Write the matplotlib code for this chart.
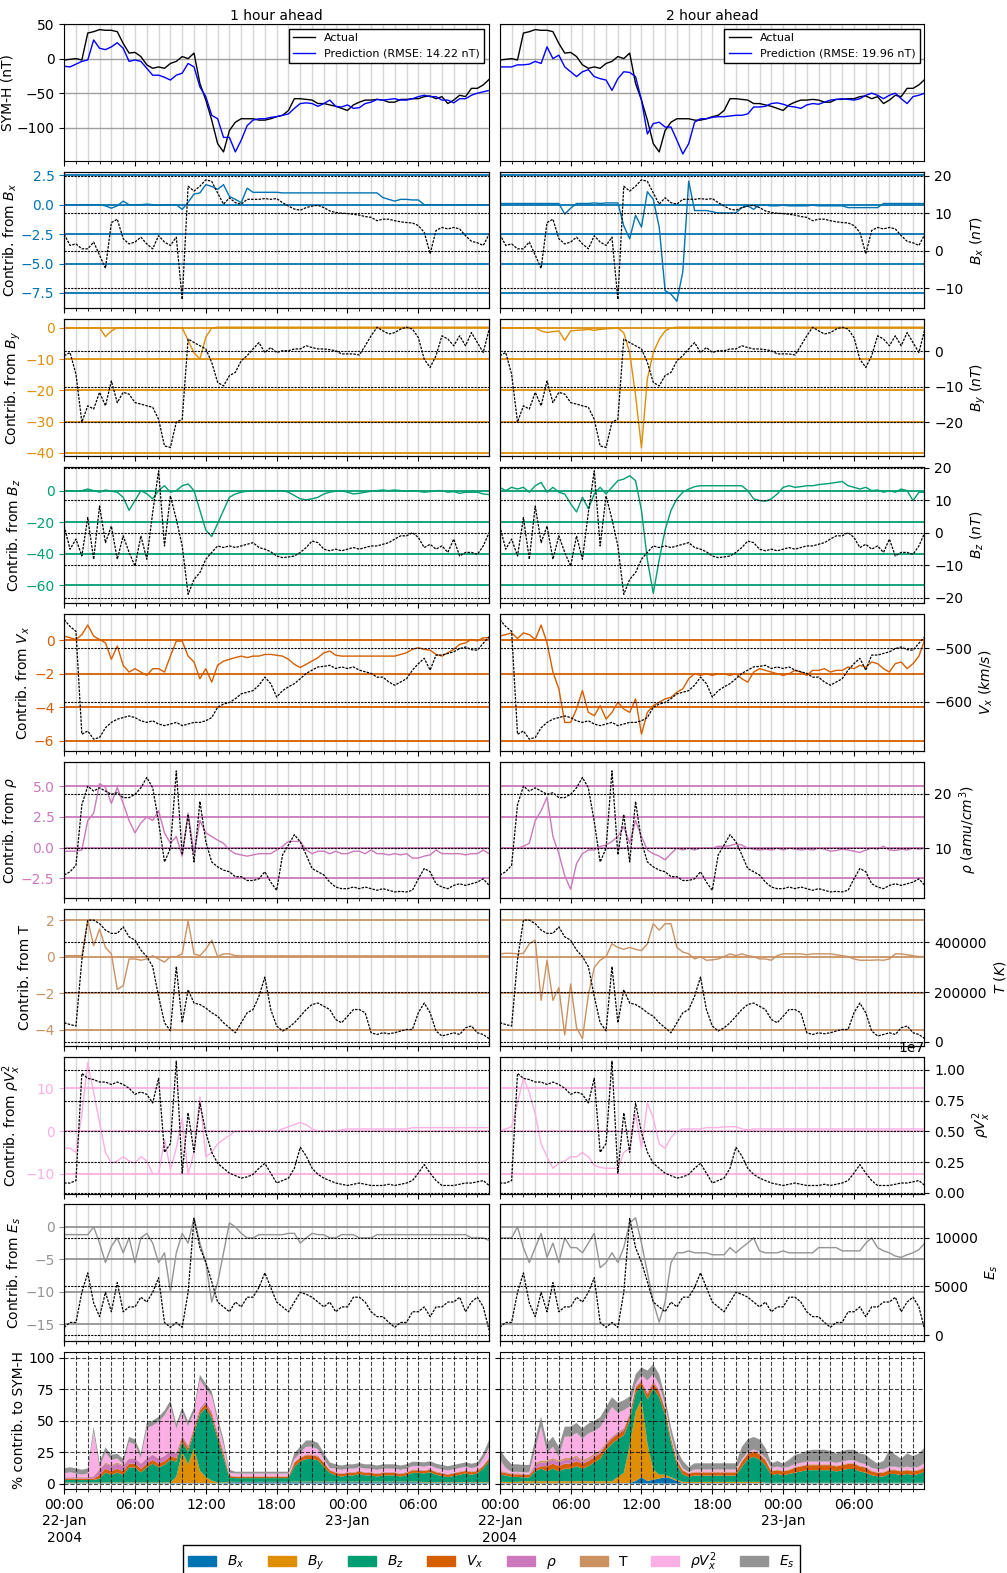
import numpy as np
import pandas as pd
import matplotlib
matplotlib.use("Agg")
import matplotlib.pyplot as plt
import matplotlib.dates as mdates
from matplotlib.ticker import FuncFormatter, FixedLocator
from matplotlib.patches import Patch

# ---------------- time axis (30-min samples) ----------------
times = pd.date_range("2004-01-22 00:00", periods=73, freq="30min")

# ---------------- SYM-H ----------------
symh_actual = [-2,-1,0,-2,37,39,42,41,41,39, 22,8,9,3,-9,-14,-12,-14,-7,-4,
               3,0,8,-36,-60,-89,-123,-135,-104,-92, -87,-87,-87,-89,-89,-87,-84,-82,-75,-58,
               -58,-59,-60,-65,-65,-67,-69,-72,-75,-67, -63,-60,-60,-59,-60,-63,-63,-59,-59,-58,
               -58,-55,-54,-58,-55,-65,-60,-53,-55,-43, -43,-38,-30]
symh_pred_1h = [-11,-12,-8,-4,-2,27,15,13,17,23, 15,-4,-2,-4,-14,-24,-24,-27,-31,-24,
                -21,-7,-12,-41,-55,-82,-87,-114,-114,-135, -118,-97,-89,-87,-87,-85,-84,-82,-80,-72,
                -65,-64,-65,-69,-65,-60,-69,-70,-67,-72, -71,-65,-63,-59,-60,-59,-58,-60,-60,-58,
                -55,-53,-55,-55,-60,-60,-64,-58,-58,-53, -50,-48,-46]
symh_pred_2h = [-12,-12,-12,-9,-9,-8,-4,-7,17,0, 5,-12,-19,-26,-19,-16,-26,-29,-31,-46,
                -29,-19,-20,-26,-60,-109,-94,-92,-99,-99, -118,-138,-123,-92,-87,-87,-85,-84,-84,-83,
                -82,-82,-80,-70,-70,-69,-65,-64,-66,-69, -70,-72,-67,-65,-66,-63,-60,-59,-58,-59,
                -60,-58,-53,-50,-53,-58,-53,-50,-58,-65, -55,-53,-50]
rmse_1h = 14.22
rmse_2h = 19.96

# ---------------- input features (black dotted, right axis) ----------------
feat_Bx = [4.4,1.4,1.8,0.5,0.5,2.3,-1.2,-4.7,7.5,8.4, 3.2,1.8,2.3,3.6,1.8,0.5,4.0,2.3,1.4,3.6,
           -13.0,17.2,15.9,17.2,18.9,18.5,15.4,12.4,14.1,12.8, 12.4,13.7,13.7,13.7,13.9,13.7,13.9,12.8,11.9,11.1,
           10.8,11.5,11.9,12.1,11.5,10.6,10.2,10.0,9.9,9.7, 9.5,9.1,8.9,8.0,8.4,8.4,8.0,7.7,7.5,7.4,
           6.7,4.9,-0.8,5.4,6.2,5.8,6.2,5.8,4.0,2.5, 2.1,1.4,4.4]
feat_By = [-1.3,-0.4,-6.5,-20,-15.4,-16.3,-11.6,-15.4,-8.4,-14.5, -11.6,-12.1,-14.5,-14.9,-15.4,-15.8,-19.2,-26.7,-27.1,-20,
           -19.2,3.4,2.4,1.5,0.6,-3.2,-8.8,-9.8,-6.9,-6.0, -2.7,-1.3,0.6,2.4,-0.4,1.0,-0.4,0.1,0.1,0.6,
           0.6,1.5,1.0,0.6,0.6,0.4,0.1,-0.8,-0.8,-0.8, -1.1,1.5,4.3,6.7,5.7,4.8,5.2,6.2,6.7,6.2,
           3.8,-2.3,-4.6,-1.3,4.3,3.4,1.5,4.3,1.5,5.2, 2.4,-0.4,6.2]
feat_Bz = [2.0,-5.1,-2.0,-7.2,4.6,-8.2,8.2,-3.1,2.0,-8.2, -1.0,-6.1,-10.3,-1.0,-8.2,6.2,19,-4.1,11.3,4.1,
           -4.1,-19,-14.4,-12.3,-8.2,-6.1,-4.1,-4.6,-4.1,-4.6, -4.1,-3.6,-3.1,-4.6,-5.1,-5.9,-7.2,-7.7,-7.5,-7.2,
           -6.1,-4.6,-2.6,-3.1,-5.1,-5.6,-5.1,-5.6,-5.1,-4.6, -5.1,-4.6,-4.1,-4.1,-3.6,-3.1,-2.0,-1.0,-1.0,0,
           -1.5,-4.6,-3.6,-5.1,-4.1,-6.1,-2.0,-7.2,-6.1,-6.1, -6.7,-4.1,0]
feat_Vx = [-447,-460,-469,-660,-654,-669,-666,-648,-638,-632, -629,-626,-629,-635,-638,-635,-641,-644,-641,-638,
           -644,-641,-638,-638,-635,-629,-610,-604,-601,-594, -585,-582,-579,-569,-554,-566,-591,-579,-572,-566,
           -557,-547,-541,-535,-534,-532,-538,-535,-538,-535, -541,-544,-547,-554,-554,-563,-569,-563,-557,-541,
           -529,-519,-541,-513,-513,-510,-507,-501,-498,-503, -504,-491,-479]
feat_rho = [5.1,5.7,6.9,18,21.4,20.5,21.1,20.5,19.9,20.2, 19.3,19.3,19.9,21.1,23,21.1,14.9,7.5,10,24.2,
            8.8,16.2,7.5,18.6,11.2,7.5,6.6,6.0,5.7,4.8, 4.8,4.1,4.1,4.4,5.7,3.8,2.3,8.8,10.6,12.5,
            11.2,8.8,6.3,5.7,5.1,3.8,2.9,2.6,2.6,2.9, 2.6,2.9,2.6,2.3,2.6,2.3,2.0,2.1,2.0,2.3,
            4.4,6.3,5.7,3.5,2.9,2.6,3.2,3.5,3.2,3.5, 3.8,4.4,3.2]
feat_T_kK = [77,70,64,329,488,488,474,448,435,435, 461,421,408,368,342,302,183,77,45,302,
             77,209,156,150,136,117,103,77,57,37, 77,117,130,183,260,130,64,44,57,77,
             103,130,150,156,143,130,90,77,103,130, 130,117,37,30,37,33,37,44,50,50,
             117,156,117,44,24,30,37,30,57,64, 37,30,13]
feat_pv2_e7 = [0.08,0.08,0.10,0.97,0.93,0.92,0.90,0.90,0.88,0.90, 0.88,0.85,0.80,0.82,0.80,0.73,0.93,0.33,0.40,1.07,
               0.16,0.65,0.33,0.73,0.49,0.33,0.24,0.20,0.16,0.14, 0.12,0.13,0.15,0.20,0.24,0.16,0.08,0.10,0.12,0.20,
               0.37,0.30,0.20,0.15,0.12,0.10,0.08,0.07,0.06,0.07, 0.08,0.07,0.06,0.06,0.06,0.07,0.06,0.07,0.08,0.10,
               0.16,0.23,0.16,0.10,0.06,0.06,0.06,0.07,0.08,0.08, 0.09,0.10,0.06]
feat_Es = [800,1300,1300,4400,6400,3300,1900,4400,2400,5400, 2400,2900,2900,3900,3400,4400,5900,1300,800,1300,
           800,4400,12000,9000,7500,5500,3400,2900,2400,3400, 2900,3900,3900,4900,6400,4900,3400,2900,2400,3400,
           4400,4200,3900,3400,2900,3400,2400,2900,2900,3900, 3900,3400,2400,1900,1900,1300,800,1300,1300,2400,
           2400,2900,1900,2900,2900,3400,3400,3900,2400,3400, 3900,2900,500]

# ---------------- contributions, 1 hour ahead ----------------
c1_Bx = [0,0,0,0,0,0,0,-0.1,-0.3,-0.1, 0.3,0,0,0,0.05,0,-0.05,0,0,0,
         -0.4,0.2,0.9,1.0,1.7,1.55,1.3,1.7,0.7,0.45, 0.17,1.4,1.05,1.05,1.05,1.05,1.05,1.0,1.0,1.0,
         1.0,1.0,1.0,1.0,1.0,1.0,1.0,1.0,1.0,1.0, 1.0,1.0,1.0,1.0,0.6,0.45,0.3,0.45,0.45,0.4,
         0.4,0,0,0,0,0,0,0,0,0, 0,0,0]
c1_By = [0,0,0,0,0,0,0,-2.8,-1,0, 0,0,0,0,0,0,0,0,0,0,
         0,-4,-8,-10,-3,0,0.2,0.2,0.2,0.2, 0.2,0.2,0.2,0.2,0.2,0.2,0.2,0.2,0.2,0.2,
         0.2,0.2,0.2,0.2,0.2,0.2,0.2,0.2,0.2,0.2, 0.2,0.2,0.2,0.2,0.2,0.2,0.2,0.2,0.2,0.2,
         0.2,0.2,0.2,0.2,0.2,0.2,0.2,0.2,0.2,0.2, 0.2,0.2,0.2]
c1_Bz = [0,0,-0.4,0,1,0,-1,0.4,-0.4,-1, -4.2,-12.5,-6.3,0,-2,-5.2,0,3.1,-1,0,
         3.1,4.2,0,-12.5,-25,-29,-20.8,-12.5,-4.2,-2.1, -1,-0.4,0,0,0,0,0,0,-1,-3.1,
         -5.2,-5.8,-5.2,-4.2,-2.1,-1,-0.4,0,-1,-2.1, -1.7,-1,-0.4,0,0.4,0,0.4,0,-0.4,0,
         -0.4,-1,-0.6,0,0,-1,-0.6,-1.7,-1,-1, -1,-2.1,-2.5]
c1_Vx = [0.24,0.14,0.04,0.33,0.9,0.24,0.04,-0.16,-1.14,-0.35, -1.5,-1.9,-1.7,-1.9,-2.1,-1.7,-1.7,-1.9,-0.95,-0.06,
         -0.06,-0.95,-1.3,-2.3,-1.7,-2.5,-1.5,-1.25,-1.14,-1.04, -0.95,-1.04,-0.95,-0.95,-0.85,-0.85,-0.9,-0.95,-1.14,-1.44,
         -1.63,-1.44,-1.24,-1.04,-0.75,-0.65,-0.9,-0.95,-0.95,-0.95, -0.95,-0.95,-0.95,-0.95,-0.95,-0.95,-0.95,-0.85,-0.75,-0.55,
         -0.45,-0.55,-0.6,-0.85,-0.95,-0.75,-0.55,-0.25,-0.16,0.04, -0.05,0.14,0.14]
c1_rho = [-0.3,-0.3,-0.3,-0.2,2.2,2.8,5.2,4.9,3.6,4.9, 3.6,2.2,1.2,2.0,2.5,2.2,3.0,1.2,0.35,0.9,
          -0.7,2.8,-0.5,2.2,1.2,0.9,0.6,0.35,-0.2,-0.5, -0.6,-0.7,-0.6,-0.5,-0.5,-0.5,-0.2,0.1,0.5,0.5,
          0.5,-0.2,-0.5,-0.3,-0.3,-0.5,-0.3,-0.5,-0.5,-0.3, -0.3,-0.5,-0.2,-0.5,-0.5,-0.6,-0.5,-0.6,-0.5,-0.86,
          -0.86,-0.7,-0.6,-0.2,-0.5,-0.5,-0.5,-0.5,-0.6,-0.5, -0.5,-0.2,-0.5]
c1_T = [0.05,0.05,0.05,0.05,2.0,0.6,1.5,0.5,0.15,-1.8, -1.6,-0.13,-0.13,-0.2,-0.13,0.05,-0.13,-0.3,0,0,
        0.15,1.95,0.15,0.05,0.4,0.9,0,0.15,0.15,0.05, 0.04,0.04,0.04,0.04,0.04,0.04,0.04,0.04,0.04,0.04,
        0.04,0.04,0.04,0.04,0.04,0.04,0.04,0.04,0.04,0.04, 0.04,0.04,0.04,0.04,0.04,0.04,0.04,0.04,0.04,0.04,
        0.04,0.04,0.04,0.04,0.04,0.04,0.04,0.04,0.04,0.04, 0.04,0.04,0.04]
c1_pv2 = [-4,-4,-5,4,16,9,2,-5,-7.5,-7, -6,-7,-7.5,-6,-7,-10,-10,-2,-9,-4,
          3,-10,-5,8,-6,-5,-3,-2,-1,0, 0,0,0,0,0,0,0,0.5,1,1.5,
          2,1.5,0.5,0,0,0,0,0.3,0.5,0.5, 0.5,0.5,0.5,0.5,0.5,0.5,0.5,0.5,0.5,0.8,
          0.8,0.8,0.8,0.8,0.8,0.8,0.8,0.8,0.8,0.8, 0.8,0.8,0.8]
c1_Es = [-1.2,-1.2,-1.2,-1.2,-1.2,0,-2.5,-5.5,-3,-1.7, -4,-1.7,-5.5,-1.7,-1,-2.5,-5.5,-4,-10,-4,
         -1,-2.5,1.4,-2.5,-5.5,-11.6,-8.6,-4,0.6,0, -1,-1.7,-1.7,-1.2,-1.2,-1.2,-1.2,-1.2,-1,-1,
         -2.5,-1.7,-1,-1.2,-1.2,-1.7,-1.7,-1.2,-1.2,-1.2, -1.7,-1.7,-1.7,-1.2,-1.2,-1.2,-1.2,-1.2,-1.2,-1.2,
         -1.2,-1.2,-1.2,-1.2,-1.2,-1.2,-1.2,-1.2,-1.2,-1.7, -1.7,-1.7,-2.1]

# ---------------- contributions, 2 hour ahead ----------------
c2_Bx = [0.1,0.1,0.1,0.1,0.1,0.1,0.1,0.1,0.1,0.1, 0.1,-0.8,-0.3,0.1,0.1,0.1,0.15,0.1,0.15,0.15,
         0.15,-1.8,-2.9,-0.9,-1.9,1.1,0.45,-1.9,-7.3,-7.6, -8.2,-5.7,2.0,-0.5,-0.5,-0.5,-0.6,-0.7,-0.7,-0.7,
         -0.7,-0.25,-0.1,-0.4,0,-0.05,-0.1,-0.1,-0.05,-0.1, -0.1,-0.1,-0.1,-0.05,-0.1,-0.1,-0.1,-0.1,-0.1,-0.25,
         -0.25,-0.25,-0.25,-0.25,-0.25,0.1,0.1,0.1,0.1,0.1, 0.1,0.1,0.1]
c2_By = [0,0,0,0,0,0,0,-1.0,-1.5,-1.2, -1.0,-4.0,-1.0,-0.8,-0.7,-0.5,-0.8,-0.5,-0.3,-0.2,
         0,-1.6,-7.9,-21.6,-38.4,-16.3,-7.9,-3.7,-1.0,0, 0.2,0.2,0.2,0.2,0.2,0.2,0.2,0.2,0.2,0.2,
         0.2,0.2,0.2,0.2,0.2,0.2,0.2,0.2,0.2,0.2, 0.2,0.2,0.2,0.2,0.2,0.2,0.2,0.2,0.2,0.2,
         0.2,0.2,0.2,0.2,0.2,0.2,0.2,0.2,0.2,0.2, 0.2,0.2,0.2]
c2_Bz = [2.1,0,2.1,1,2.1,-1,3.1,5.2,-1,2.1, -1,-2.1,-8.3,-13.5,-4.2,-11.5,-2.1,2.1,-2.1,2.1,
         6.3,7.3,9.4,6.3,-12.5,-43.8,-65,-43.8,-25,-12.5, -5.2,-1,1,2.5,3.1,3.1,3.1,3.1,3.1,3.1,
         3.1,3.1,0,-5.2,-6.3,-6.7,-5.2,-2.1,2.1,3.1, 2.1,2.5,3.1,3.1,3.8,4.2,4.6,5.2,5.8,3.1,
         2.1,1,2.1,0,0.4,-1,0,-1,1,0, -6.3,-1,-1]
c2_Vx = [0.24,0.33,0.43,0.1,0.43,0.33,0.04,0.9,-0.16,-1.9, -2.9,-4.9,-4.9,-4.1,-3.0,-4.3,-4.5,-3.9,-4.7,-4.3,
         -3.7,-4.1,-4.3,-3.5,-5.6,-4.3,-3.9,-3.7,-3.5,-3.4, -3.1,-2.9,-2.3,-2.0,-2.1,-2.0,-2.1,-2.0,-2.0,-2.1,
         -2.0,-2.3,-2.5,-1.9,-1.7,-1.8,-1.9,-2.0,-2.1,-2.0, -1.8,-1.9,-2.1,-1.8,-1.8,-1.7,-1.9,-1.8,-1.8,-1.6,
         -1.7,-1.5,-1.6,-1.3,-1.4,-1.7,-1.9,-1.4,-1.3,-1.7, -1.4,-0.95,0.04]
c2_rho = [0,-0.05,-0.05,-0.05,0.1,0.35,2.2,3.0,4.1,0.9, -0.5,-2.3,-3.4,-1.3,-0.5,-0.2,-0.2,0.1,0.2,0.5,
          0.9,1.7,0.35,2.2,0.9,-0.2,-0.5,-0.7,-1.0,-0.5, -0.05,-0.2,-0.05,-0.2,-0.05,0,-0.05,0.1,0.1,0.15,
          0.3,0.2,-0.05,-0.13,-0.2,-0.13,-0.2,-0.05,-0.2,-0.05, -0.13,-0.2,-0.13,-0.2,-0.05,-0.13,-0.3,-0.24,-0.13,-0.2,
          -0.3,-0.4,-0.2,-0.05,-0.13,0.1,-0.2,-0.24,-0.13,-0.2, -0.05,-0.13,-0.05]
c2_T = [0.15,0.18,0.18,0.15,0.18,0.7,0.9,-2.4,-0.2,-2.4, -1.7,-4.3,-1.5,-3.9,-4.5,-2.1,-0.6,-0.2,0,0.7,
        0.5,0.4,0.5,0.4,0.33,0.7,1.8,1.45,1.8,1.8, 0.5,0.25,0.15,-0.13,0,-0.2,-0.18,-0.13,0,0.15,
        0.05,0.15,0.05,0,-0.13,-0.13,-0.2,0.05,0.15,0.15, 0.15,0.15,0.1,0.15,0.15,0.15,0.15,0.1,0.05,0,
        -0.13,-0.2,-0.2,-0.2,-0.18,-0.2,-0.13,0.15,0.15,0.1, 0.05,0,0]
c2_pv2 = [0,0.5,1,6.5,12.5,9,4,-3,-6,-8.7, -7.5,-7,-6,-6,-5,-6,-8,-8.5,-8.7,-8.7,
          -8.7,-5,-4,4,-4,6.6,3,-3,-4,-1.5, 0,0.5,0.5,0.5,0.5,0.8,0.8,0.8,1,1,
          1,0.5,0.3,0.5,0.5,0.5,0.5,0.5,0.5,0.5, 0.5,0.5,0.5,0.5,0.5,0.5,0.5,0.5,0.5,0.5,
          0.5,0.5,0.5,0.5,0.5,0.5,0.5,0.5,0.5,0.5, 0.5,0.5,0.5]
c2_Es = [-1.7,-1.7,-1.7,0,-3.2,-5.5,-3.2,-1,-4.7,-2.5, -5.5,-1.7,-3.2,-3.2,-4,-2.5,-1,-6.3,-5.5,-4,
         -5.5,-3.2,0.6,1.4,-2.5,-7,-11.6,-14.7,-11.6,-5.5, -4,-4,-3.7,-4,-4,-4,-4.3,-4.3,-4.3,-3.2,
         -4,-3.2,-2.5,-1.7,-3.7,-4,-4,-4,-3.7,-4, -4,-4,-4,-4,-3.2,-3.2,-3.2,-3.2,-3.7,-3.7,
         -3.7,-3.7,-2.5,-1.7,-3.2,-3.7,-4,-4.5,-4.7,-4.3, -4,-3.5,-2.5]

# ---------------- % contribution to SYM-H (stacked) ----------------
p1_Bx = [0.3,0.3,0.3,0.3,0.3,0.3,0.3,0.3,0.3,0.3, 0.3,0.3,0.3,0.3,0.3,0.3,0.3,0.3,0.3,0.3,
         0.3,0.3,0.3,0.3,0.3,0.3,0.3,0.3,1,1, 1,1,1,1,1,1,1,1,1,1,
         1,1,1,1,1,1,1,1,1,1, 1,1,1,1,1,1,1,1,1,1,
         1,0.5,0.5,0.5,0.5,0.5,0.5,0.5,0.5,0.5, 0.5,0.5,0.5]
p1_By = [0.5,0.5,0.5,0.5,0.5,0.5,0.5,0.5,0.5,0.5, 0.5,0.5,0.5,0.5,0.5,0.5,0.5,0.5,0.5,5,
         25,15,28,10,5,2,0.5,0.5,0.5,0.3, 0.3,0.3,0.3,0.3,0.3,0.3,0.3,0.3,0.3,0.5,
         0.5,0.5,0.5,0.5,0.5,0.5,0.5,0.5,0.5,0.5, 0.5,0.5,0.5,0.5,0.5,0.5,0.5,0.5,0.5,0.5,
         0.5,0.5,0.5,0.5,0.5,0.5,0.5,0.5,0.5,0.5, 0.5,0.5,0.5]
p1_Bz = [2,2,2,2,2,2,3,8,6,8, 6,12,12,8,12,15,12,14,18,12,
         8,10,12,45,55,50,35,20,3,3, 3,3,3,3,3,3,3,3,3,12,
         16,18,18,17,12,7,5,4,5,5, 6,5,5,4,5,5,5,4,5,7,
         7,7,8,6,5,4,5,6,7,6, 7,11,17]
p1_Vx = [1,1,1,1,1,1,3,3,3,3, 3,3,3,3,3,3,3,3,3,3,
         3,3,3,3,3,3,3,3,1.5,1, 1,1,1,1,1,1,1,1,1,3,
         3,3,3,3,3,2,2,2,2,2, 2,2,2,2,2,2,2,2,2,2,
         2,2,2,2,2,2,2,2,2,2, 2,2,2]
p1_rho = [1,1,1,1,1,2,4,4,4,4, 4,4,4,4,4,4,4,4,4,4,
          2,2,2,2,2,2,2,2,0.5,0.3, 0.3,0.3,0.3,0.3,0.3,0.3,0.3,0.3,0.3,0.5,
          0.5,0.5,0.5,0.5,0.5,0.5,0.5,0.5,0.5,0.5, 0.5,0.5,0.5,0.5,0.5,0.5,0.5,0.5,0.5,0.5,
          0.5,0.5,0.5,0.5,0.5,0.5,0.5,0.5,0.5,0.5, 0.5,0.5,0.5]
p1_T = [0.3,0.3,0.3,0.3,0.3,0.3,1,1,1,1, 1,0.3,0.3,0.3,0.3,0.3,0.3,0.3,0.3,0.3,
        0.3,0.3,0.3,0.3,0.3,0.3,0.3,0.3,0.3,0.3, 0.3,0.3,0.3,0.3,0.3,0.3,0.3,0.3,0.3,0.3,
        0.3,0.3,0.3,0.3,0.3,0.3,0.3,0.3,0.3,0.3, 0.3,0.3,0.3,0.3,0.3,0.3,0.3,0.3,0.3,0.3,
        0.3,0.3,0.3,0.3,0.3,0.3,0.3,0.3,0.3,0.3, 0.3,0.3,0.3]
p1_pv2 = [2.9,3.9,2.9,1.9,2.9,35,1,8,4,3, 1,13,11,4,24,23,29,32,36,19,
          18,15,11,22,10,12,8,5,1.7,2, 2,2,2,2,2,2,2,2,2,2,
          3,6,6,5,2,1,2.5,2.5,2.5,2.5, 2.5,2.5,2.5,2.5,2.5,2.5,2.5,2.5,2.5,2.5,
          2.5,2.5,2.5,2.5,2.5,2.5,2.5,2.5,2.5,2.5, 2.5,5,8]
p1_Es = [4,4,4,4,4,4,4,4,4,4, 4,4,4,4,4,4,4,4,4,4,
         4,4,4,4,4,4,4,4,2.5,1.5, 1.5,1.5,1.5,1.5,1.5,1.5,1.5,1.5,1.5,5,
         5,5,5,5,5,4.5,3.5,3.5,3.5,3.5, 3.5,3.5,3.5,3.5,3.5,3.5,3.5,3.5,3.5,3.5,
         3.5,3.5,3.5,3.5,3.5,3.5,3.5,3.5,3.5,3.5, 3.5,4,6]

p2_Bx = [0.3,0.3,0.3,0.3,0.3,0.3,0.3,0.3,0.3,0.3, 0.3,0.3,0.3,0.3,0.3,0.3,0.3,0.3,0.3,0.3,
         0.3,0.3,0.3,2,5,2,3,4,5,4, 2,0.3,0.3,0.3,0.3,0.3,0.3,0.3,0.3,0.3,
         0.3,0.3,0.3,0.3,0.3,0.3,0.3,0.3,0.3,0.3, 0.3,0.3,0.3,0.3,0.3,0.3,0.3,0.3,0.3,0.3,
         0.3,0.3,0.3,0.3,0.3,0.3,0.3,0.3,0.3,0.3, 0.3,0.3,0.3]
p2_By = [1,1,1,1,1.5,1.5,1.5,1.5,1.5,1.5, 1.5,1.5,1.5,1.5,1.5,1.5,1.5,1.5,1.5,1.5,
         5,8,30,55,62,30,8,3,2,1, 1,1,1,1,1,1,1,1,1,1,
         1,1,1,1,1,0.3,0.3,0.3,0.3,0.3, 0.3,0.3,0.3,0.3,0.3,0.3,0.3,0.3,0.3,0.3,
         0.3,0.3,0.3,0.3,0.3,0.3,0.3,0.3,0.3,0.3, 0.3,0.3,0.3]
p2_Bz = [6,5,4,4,3,3,8,10,8,10, 8,10,10,12,10,12,15,18,25,30,
         30,30,20,15,11,35,65,62,48,28, 12,6,4,5,5,5,5,5,5,5,
         5,12,18,20,18,14,6,7,6,7, 8,9,10,10,10,10,10,9,10,11,
         11,9,8,6,5,5,7,7,6,7, 6,7,9]
p2_Vx = [2,2,2,2,2,2,2,2,4,4, 4,4,4,4,4,4,4,4,4,4,
         4,4,4,4,3,4,4,4,4,3, 3,3,2.5,2.5,2.5,2.5,2.5,2.5,2.5,2.5,
         2.5,4,4,4,4,4,3,3,3,3, 4,4,4,4,4,4,4,4,4,4,
         4,4,4,3,3,3,3,3,3,3, 3,3,3]
p2_rho = [0.5,0.5,0.5,0.5,0.5,0.5,3,3,3,3, 3,3,3,3,1.5,1.5,1.5,1.5,1.5,1.5,
          1.5,1.5,1.5,1.5,1,1.5,1.5,1.5,0.3,0.3, 0.3,0.3,0.3,0.3,0.3,0.3,0.3,0.3,0.3,0.3,
          0.3,0.3,0.3,0.3,0.3,0.3,0.3,0.3,0.3,0.3, 0.3,0.3,0.3,0.3,0.3,0.3,0.3,0.3,0.3,0.3,
          0.3,0.3,0.3,0.3,0.3,0.3,0.3,0.3,0.3,0.3, 0.3,0.3,0.3]
p2_T = [0.5,0.5,0.5,0.5,0.5,0.5,1.5,1.5,1.5,1.5, 1.5,1.5,1.5,1.5,1.5,1.5,1.5,1.5,0.5,0.5,
        0.5,0.5,0.5,0.5,0.5,0.5,0.5,0.5,0.5,0.5, 0.5,0.5,0.5,0.5,0.5,0.5,0.5,0.5,0.5,0.5,
        0.5,0.5,0.5,0.5,0.5,0.5,0.5,0.5,0.5,0.5, 0.5,0.5,0.5,0.5,0.5,0.5,0.5,0.5,0.5,0.5,
        0.5,0.5,0.5,0.5,0.5,0.5,0.5,0.5,0.5,0.5, 0.5,0.5,0.5]
p2_pv2 = [9,3,1,1,1,1,11,27,6,9, 3,17,17,18,17,19,18,18,20,23,
          15,14,5,1,4,9,5,4,3,2, 2,1,0.5,1.5,1.5,1.5,1.5,1.5,1.5,1.5,
          1.5,1,1,1,1,1,2,2,2,2, 2,2,2,2,2,2,2,2,2,2,
          2,2,2,2,2,2,2,2,2,2, 2,2,3]
p2_Es = [8,8,6,6,6,6,8,8,8,8, 8,8,8,8,8,8,8,8,8,8,
         8,8,8,8,6,8,8,8,6,6, 6,6,4,5,5,5,5,5,5,5,
         5,10,10,10,10,8,3.5,4.5,3.5,5.5, 7.5,7.5,8.5,9.5,9.5,9.5,8.5,7.5,8.5,8.5,
         8.5,7.5,7.5,6.5,4.5,6.5,13.5,9.5,7.5,10.5, 9.5,10.5,12.5]

# ---------------- styling ----------------
colors = ["#0173b2", "#de8f05", "#029e73", "#d55e00", "#cc78bc", "#ca9161", "#fbafe4", "#949494"]
legend_labels = [r"$B_x$", r"$B_y$", r"$B_z$", r"$V_x$", r"$\rho$", "T", r"$\rho V_x^2$", r"$E_s$"]

features = [
    dict(feat=feat_Bx, scale=1, c1=c1_Bx, c2=c2_Bx, lab="Contrib. from $B_x$", tlab=r"$B_x\ (nT)$",
         ylim=(-8.81, 2.81), yt=[-7.5, -5, -2.5, 0, 2.5], tylim=(-15.4, 21.1), tyt=[-10, 0, 10, 20]),
    dict(feat=feat_By, scale=1, c1=c1_By, c2=c2_By, lab="Contrib. from $B_y$", tlab=r"$B_y\ (nT)$",
         ylim=(-41.0, 2.8), yt=[-40, -30, -20, -10, 0], tylim=(-29.5, 9.0), tyt=[-20, -10, 0]),
    dict(feat=feat_Bz, scale=1, c1=c1_Bz, c2=c2_Bz, lab="Contrib. from $B_z$", tlab=r"$B_z\ (nT)$",
         ylim=(-71.4, 15.2), yt=[-60, -40, -20, 0], tylim=(-21.8, 20.3), tyt=[-20, -10, 0, 10, 20]),
    dict(feat=feat_Vx, scale=1, c1=c1_Vx, c2=c2_Vx, lab="Contrib. from $V_x$", tlab=r"$V_x\ (km/s)$",
         ylim=(-6.6, 1.55), yt=[-6, -4, -2, 0], tylim=(-691, -437), tyt=[-600, -500]),
    dict(feat=feat_rho, scale=1, c1=c1_rho, c2=c2_rho, lab=r"Contrib. from $\rho$", tlab=r"$\rho\ (amu/cm^3)$",
         ylim=(-4.15, 7.0), yt=[-2.5, 0, 2.5, 5], tylim=(0.8, 25.9), tyt=[10, 20]),
    dict(feat=feat_T_kK, scale=1e3, c1=c1_T, c2=c2_T, lab="Contrib. from T", tlab=r"$T\ (K)$",
         ylim=(-4.9, 2.6), yt=[-4, -2, 0, 2], tylim=(-16000, 532000), tyt=[0, 200000, 400000]),
    dict(feat=feat_pv2_e7, scale=1e7, c1=c1_pv2, c2=c2_pv2, lab=r"Contrib. from $\rho V_x^2$", tlab=r"$\rho V_x^2$",
         ylim=(-14.6, 17.4), yt=[-10, 0, 10], tylim=(-0.005e7, 1.106e7), tyt=[0, 0.25e7, 0.5e7, 0.75e7, 1.0e7]),
    dict(feat=feat_Es, scale=1, c1=c1_Es, c2=c2_Es, lab=r"Contrib. from $E_s$", tlab=r"$E_s$",
         ylim=(-17.6, 3.5), yt=[-15, -10, -5, 0], tylim=(-610, 13470), tyt=[0, 5000, 10000]),
]

FS = 10
plt.rcParams["font.family"] = ["DejaVu Sans"]
plt.rcParams["font.size"] = FS

fig = plt.figure(figsize=(10.07, 15.73), dpi=100)
gs = fig.add_gridspec(10, 2, left=0.0637, right=0.918, top=0.9847, bottom=0.0537,
                      hspace=0.078, wspace=0.026)

t_start = pd.Timestamp("2004-01-22 00:00")
t_end = pd.Timestamp("2004-01-23 11:58")

def fmt_date(x, pos):
    d = mdates.num2date(x)
    s = d.strftime("%H:%M")
    if d.hour == 0 and d.minute == 0:
        s += "\n" + d.strftime("%d-%b")
        if d.day == 22:
            s += "\n" + d.strftime("%Y")
    return s

def setup_x(ax, bottom=False):
    ax.set_xlim(t_start, t_end)
    ax.xaxis.set_major_locator(mdates.HourLocator(byhour=[0, 6, 12, 18]))
    ax.xaxis.set_minor_locator(mdates.HourLocator())
    if bottom:
        ax.xaxis.set_major_formatter(FuncFormatter(fmt_date))
        ax.tick_params(axis="x", which="major", labelsize=FS)
    else:
        ax.tick_params(axis="x", which="both", labelbottom=False)

LIGHT = "#d6d6d6"
LP = 1.5
for col in range(2):
    # -------- row 0 : SYM-H
    ax = fig.add_subplot(gs[0, col])
    pred = symh_pred_1h if col == 0 else symh_pred_2h
    rmse = rmse_1h if col == 0 else rmse_2h
    ax.plot(times, symh_actual, color="black", lw=1.0, label="Actual")
    ax.plot(times, pred, color="blue", lw=1.0, label=f"Prediction (RMSE: {rmse:.2f} nT)")
    ax.set_ylim(-148, 50)
    ax.set_yticks([-100, -50, 0, 50])
    setup_x(ax)
    ax.grid(which="both", axis="x", color=LIGHT, lw=1.0)
    ax.grid(which="major", axis="y", color="#a0a0a0", lw=1.0)
    ax.set_axisbelow(True)
    ax.legend(loc="upper right", fontsize=8, fancybox=False, edgecolor="black",
              framealpha=1, borderaxespad=0.4)
    ax.set_title("1 hour ahead" if col == 0 else "2 hour ahead", fontsize=FS, pad=3)
    if col == 0:
        ax.set_ylabel("SYM-H (nT)", fontsize=FS, labelpad=LP)
    else:
        ax.tick_params(axis="y", left=False, labelleft=False)

    # -------- rows 1-8 : contributions
    for i, f in enumerate(features):
        c = colors[i]
        ax = fig.add_subplot(gs[i + 1, col])
        contrib = f["c1"] if col == 0 else f["c2"]
        ax.plot(times, contrib, color=c, lw=1.0, zorder=3)
        ax.set_ylim(*f["ylim"])
        ax.set_yticks(f["yt"])
        setup_x(ax)
        ax.grid(which="both", axis="x", color=LIGHT, lw=1.0)
        ax.grid(which="major", axis="y", color=c, lw=1.3)
        ax.set_axisbelow(True)
        ax.tick_params(axis="y", colors=c, labelsize=FS)
        tw = ax.twinx()
        tw.plot(times, np.asarray(f["feat"], dtype=float) * f["scale"], color="black",
                lw=0.9, ls=(0, (2, 1)))
        tw.set_ylim(*f["tylim"])
        tw.yaxis.set_major_locator(FixedLocator(f["tyt"]))
        tw.grid(which="major", axis="y", color="black", lw=0.8, ls=(0, (2, 1)))
        setup_x(tw)
        if col == 0:
            ax.set_ylabel(f["lab"], fontsize=FS, color="black", labelpad=LP)
            tw.tick_params(axis="y", right=False, labelright=False)
            tw.yaxis.get_offset_text().set_visible(False)
        else:
            ax.tick_params(axis="y", left=False, labelleft=False)
            tw.tick_params(axis="y", labelsize=FS)
            tw.set_ylabel(f["tlab"], fontsize=FS)

    # -------- row 9 : stacked % contribution
    ax = fig.add_subplot(gs[9, col])
    if col == 0:
        layers = [p1_Bx, p1_By, p1_Bz, p1_Vx, p1_rho, p1_T, p1_pv2, p1_Es]
    else:
        layers = [p2_Bx, p2_By, p2_Bz, p2_Vx, p2_rho, p2_T, p2_pv2, p2_Es]
    ax.stackplot(times, *layers, colors=colors, lw=0.6)
    ax.set_ylim(-4, 105)
    ax.set_yticks([0, 25, 50, 75, 100])
    setup_x(ax, bottom=True)
    ax.grid(which="both", axis="x", color="black", lw=0.8, ls="--", alpha=0.75)
    ax.grid(which="major", axis="y", color="black", lw=0.8, ls="--", alpha=0.75)
    ax.set_axisbelow(False)
    if col == 0:
        ax.set_ylabel("% contrib. to SYM-H", fontsize=FS, labelpad=LP)
    else:
        ax.tick_params(axis="y", labelleft=False)

handles = [Patch(facecolor=c, edgecolor=c) for c in colors]
fig.legend(handles, legend_labels, loc="lower center", bbox_to_anchor=(0.488, -0.0042),
           ncol=8, fontsize=FS, fancybox=False, edgecolor="black", framealpha=1,
           columnspacing=1.7, borderaxespad=0.1)

fig.savefig("out.png", dpi=100)
